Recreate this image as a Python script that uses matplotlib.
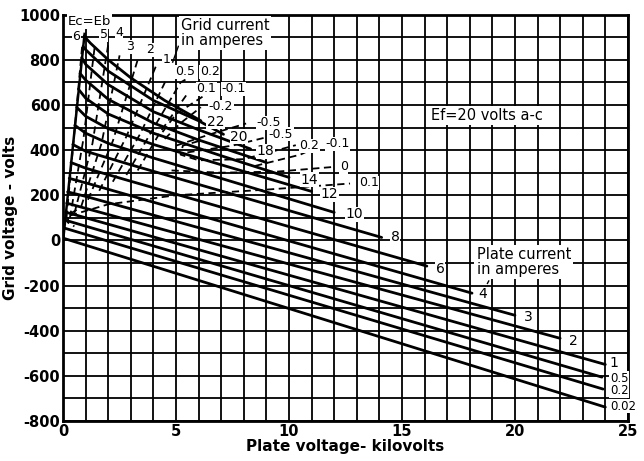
import matplotlib
matplotlib.use("Agg")
from matplotlib import pyplot as plt
import numpy as np

# plate current curves (solid): (kV, volts)
ip_002 = [(0.0, 10), (24.0, -739)]
ip_02 = [(0.04, 55), (23.9, -659)]
ip_05 = [(0.08, 90), (23.85, -606)]
ip_1 = [(0.12, 125), (24.0, -550)]
ip_2 = [(0.16, 165), (22.0, -434)]
ip_3 = [(0.2, 215), (1.0, 195), (20.0, -332)]
ip_4 = [(0.27, 275), (1.0, 255), (18.1, -234)]
ip_6 = [(0.35, 345), (1.0, 320), (3.0, 262), (16.1, -114)]
ip_8 = [(0.43, 425), (1.0, 395), (3.0, 335), (14.1, 13)]
ip_10 = [(0.52, 510), (1.0, 475), (2.0, 430), (4.0, 365), (12.0, 124)]
ip_12 = [(0.6, 590), (1.0, 550), (2.0, 495), (4.0, 425), (7.0, 335), (11.0, 217)]
ip_14 = [(0.68, 670), (1.0, 630), (2.0, 560), (4.0, 475), (7.0, 375), (10.0, 279)]
ip_16 = [(0.75, 740), (1.0, 710), (2.0, 625), (4.0, 520), (6.0, 445), (9.0, 345)]
ip_18 = [(0.82, 810), (1.0, 780), (2.0, 690), (4.0, 570), (6.0, 490), (8.3, 405)]
ip_20 = [(0.88, 860), (1.0, 845), (2.0, 750), (4.0, 620), (6.0, 530), (7.1, 470)]
ip_22 = [(0.93, 905), (1.2, 875), (2.0, 800), (3.0, 720), (4.5, 620), (6.1, 530)]

# plate current labels: text, x, y
ip_labels = [("0.02", 24.2, -734), ("0.2", 24.2, -666), ("0.5", 24.2, -610),
             ("1", 24.2, -545), ("2", 22.4, -447), ("3", 20.4, -341),
             ("4", 18.4, -239), ("6", 16.5, -128), ("8", 14.5, 15),
             ("10", 12.5, 115), ("12", 11.4, 205), ("14", 10.5, 268),
             ("18", 8.55, 394), ("20", 7.4, 460), ("22", 6.35, 526)]

# Ec = Eb line
ec_eb = [(0.0, 0), (0.95, 915)]

# grid current curves (dashed)
ig_6 = [(0.15, 100), (0.5, 480), (0.85, 870)]
ig_5 = [(0.3, 100), (0.9, 450), (1.4, 860)]
ig_4 = [(0.5, 120), (1.3, 430), (2.0, 870)]
ig_3 = [(0.8, 150), (1.7, 430), (2.5, 820)]
ig_2 = [(1.1, 180), (2.2, 440), (3.3, 800)]
ig_1 = [(1.6, 220), (2.8, 460), (4.1, 770)]
ig_05 = [(2.2, 260), (3.4, 470), (4.6, 720)]
ig_02 = [(2.8, 290), (3.9, 480), (5.2, 700), (5.8, 735)]
ig_01 = [(3.3, 310), (4.3, 480), (5.5, 650)]
ig_m01 = [(4.4, 480), (5.0, 560), (6.6, 665)]
ig_m02 = [(4.5, 450), (5.2, 520), (6.1, 590)]
ig_m05a = [(5.0, 420), (6.5, 470), (8.1, 518)]
ig_m05b = [(5.5, 390), (7.5, 420), (9.0, 457)]
ig_02b = [(6.0, 440), (5.3, 420), (5.2, 380), (6.0, 355), (8.0, 360), (10.3, 422)]
ig_01b = [(8.5, 330), (10.5, 380), (11.4, 422)]
ig_0 = [(4.8, 310), (7.0, 300), (9.5, 305), (11.9, 325)]
ig_01c = [(0.3, 110), (2.0, 160), (5.0, 200), (9.0, 225), (12.7, 252)]
ig_loop = [(0.6, 135), (0.25, 115), (0.2, 80), (0.5, 62)]

ig_labels = [("6", 0.4, 902), ("5", 1.63, 911), ("4", 2.3, 920), ("3", 2.8, 858),
             ("2", 3.66, 845), ("1", 4.42, 800), ("0.5", 4.95, 748),
             ("0.2", 6.05, 748), ("0.1", 5.9, 672), ("-0.1", 7.0, 672),
             ("-0.2", 6.45, 593), ("-0.5", 8.55, 522), ("-0.5", 9.1, 470),
             ("0.2", 10.45, 420), ("-0.1", 11.6, 428), ("0", 12.25, 327),
             ("0.1", 13.1, 256)]

plate_curves = [ip_002, ip_02, ip_05, ip_1, ip_2, ip_3, ip_4, ip_6, ip_8,
                ip_10, ip_12, ip_14, ip_16, ip_18, ip_20, ip_22]
grid_curves = [ig_6, ig_5, ig_4, ig_3, ig_2, ig_1, ig_05, ig_02, ig_01,
               ig_m01, ig_m02, ig_m05a, ig_m05b, ig_02b, ig_01b, ig_0,
               ig_01c, ig_loop]

x_ticks = [0, 5, 10, 15, 20, 25]
y_ticks = [1000, 800, 600, 400, 200, 0, -200, -400, -600, -800]

fig = plt.figure(figsize=(6.44, 4.61), dpi=100)
ax = fig.add_axes([0.098, 0.087, 0.877, 0.881])
ax.set_xlim(0, 25)
ax.set_ylim(-800, 1000)

# heavy grid: every kV and every 100 V
for gx in range(0, 26):
    ax.axvline(gx, color='black', lw=1.3, zorder=1)
for gy in range(-800, 1001, 100):
    ax.axhline(gy, color='black', lw=1.3, zorder=1)

for c in plate_curves:
    xs, ys = zip(*c)
    ax.plot(xs, ys, color='black', lw=2.0, solid_capstyle='round', zorder=3)

xs, ys = zip(*ec_eb)
ax.plot(xs, ys, color='black', lw=1.8, zorder=3)

for c in grid_curves:
    xs, ys = zip(*c)
    ax.plot(xs, ys, color='black', lw=1.3, ls=(0, (4, 2.5)), zorder=3)

box = dict(facecolor='white', edgecolor='none', pad=0.4)
for t, x, y in ip_labels:
    fs = 8.5 if x > 24 and t != "1" else 10
    ax.text(x, y, t, fontsize=fs, ha='left', va='center', bbox=box, zorder=5)
for t, x, y in ig_labels:
    ax.text(x, y, t, fontsize=9, ha='left', va='center', bbox=box, zorder=5)

ax.text(0.2, 970, "Ec=Eb", fontsize=9.5, ha='left', va='center', bbox=box, zorder=5)
ax.text(5.2, 918, "Grid current\nin amperes", fontsize=10.5, ha='left', va='center',
        linespacing=1.0, bbox=dict(facecolor='white', edgecolor='none', pad=1.5), zorder=5)
ax.plot([5.1, 4.85], [860, 790], color='black', lw=1.0, zorder=4)
ax.text(16.3, 555, "Ef=20 volts a-c", fontsize=10.5, ha='left', va='center',
        bbox=dict(facecolor='white', edgecolor='none', pad=1.5), zorder=5)
ax.text(18.3, -95, "Plate current\nin amperes", fontsize=10.5, ha='left', va='center',
        linespacing=1.0, bbox=dict(facecolor='white', edgecolor='none', pad=1.5), zorder=5)
ax.plot([19.0, 18.6], [-150, -225], color='black', lw=1.0, ls=(0, (3, 2)), zorder=4)

ax.set_xticks(x_ticks)
ax.set_yticks(y_ticks)
ax.set_xticklabels([str(v) for v in x_ticks], fontsize=10.5, fontweight='bold')
ax.set_yticklabels([str(v) for v in y_ticks], fontsize=10.5, fontweight='bold')
ax.tick_params(length=0, pad=2)
for s in ax.spines.values():
    s.set_linewidth(2.0)

ax.set_xlabel("Plate voltage- kilovolts", fontsize=11, fontweight='bold', labelpad=0)
ax.set_ylabel("Grid voltage - volts", fontsize=11, fontweight='bold', labelpad=1)

fig.savefig("out.png", dpi=100)
